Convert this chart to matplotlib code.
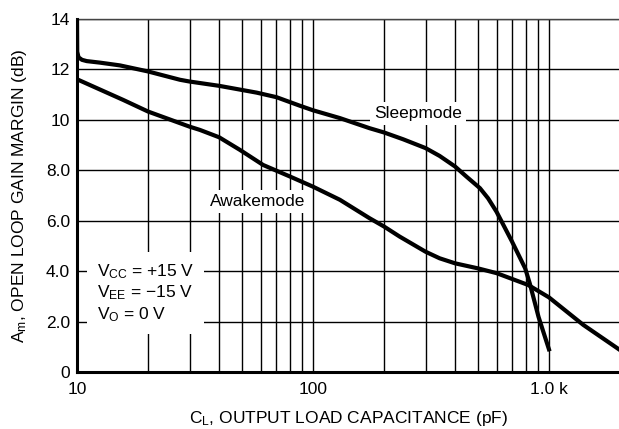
import matplotlib
matplotlib.use("Agg")
import matplotlib.pyplot as plt
from matplotlib.ticker import FixedLocator, NullFormatter

plt.rcParams['font.family'] = ['Liberation Sans', 'DejaVu Sans']
plt.rcParams['mathtext.fontset'] = 'custom'
plt.rcParams['mathtext.rm'] = 'Liberation Sans'
plt.rcParams['mathtext.it'] = 'Liberation Sans'

# Sleepmode curve (pF, dB)
sleep_x = [10, 10.02, 10.15, 10.5, 11, 12.5, 15.2, 20, 27.3, 30, 40, 57.7, 70, 88, 100, 130,
           173.6, 200, 241, 300, 344, 400, 447, 510, 552, 600, 695, 793, 830, 903, 1000]
sleep_y = [14.0, 12.7, 12.48, 12.38, 12.33, 12.27, 12.16, 11.92, 11.59, 11.52, 11.35, 11.08, 10.9, 10.56, 10.38, 10.07,
           9.67, 9.5, 9.23, 8.88, 8.57, 8.15, 7.75, 7.29, 6.89, 6.35, 5.2, 4.11, 3.5, 2.19, 0.9]

# Awakemode curve (pF, dB)
awake_x = [10, 15.7, 20, 30, 33.2, 40, 49, 61.5, 80, 100, 130, 173.6, 200, 233,
           300, 344, 400, 500, 600, 817, 1000, 1397, 2000]
awake_y = [11.61, 10.79, 10.33, 9.73, 9.6, 9.31, 8.81, 8.21, 7.75, 7.35, 6.83, 6.1, 5.77, 5.37,
           4.77, 4.51, 4.31, 4.11, 3.92, 3.45, 2.96, 1.87, 0.87]

y_ticks = [0, 2, 4, 6, 8, 10, 12, 14]
y_labels = ['0', '2.0', '4.0', '6.0', '8.0', '10', '12', '14']
x_ticks = [10, 100, 1000]
x_labels = ['10', '100', '1.0 k']

fig = plt.figure(figsize=(6.19, 4.29), dpi=100)
ax = fig.add_axes([0.1244, 0.1329, 0.8772, 0.8228])

ax.set_xscale('log')
ax.set_xlim(10, 2000)
ax.set_ylim(0, 14)

# grid
minor = [m * 10 ** d for d in (1, 2) for m in range(2, 10)] + [2000]
ax.xaxis.set_minor_locator(FixedLocator(minor))
ax.xaxis.set_minor_formatter(NullFormatter())
ax.set_xticks(x_ticks)
ax.set_xticklabels(x_labels)
ax.set_yticks(y_ticks)
ax.set_yticklabels(y_labels)
ax.grid(True, which='both', axis='x', color='black', linewidth=1.0)
ax.grid(True, which='major', axis='y', color='black', linewidth=1.0)
ax.tick_params(which='both', length=0, labelsize=12.5)
ax.tick_params(axis='x', pad=7)
ax.tick_params(axis='y', pad=5)
ax.set_axisbelow(True)

for side in ('left', 'bottom'):
    ax.spines[side].set_linewidth(2.2)
ax.spines['top'].set_linewidth(1.0)
ax.spines['top'].set_color('#444444')
ax.spines['right'].set_visible(False)

ax.plot(sleep_x, sleep_y, color='black', linewidth=3.0, solid_joinstyle='round', zorder=5)
ax.plot(awake_x, awake_y, color='black', linewidth=3.0, solid_joinstyle='round', zorder=5)

box = dict(facecolor='white', edgecolor='none', pad=3)
ax.text(279, 10.24, 'Sleepmode', fontsize=12.5, ha='center', va='center', bbox=box, zorder=4)
ax.text(58.5, 6.75, 'Awakemode', fontsize=12.5, ha='center', va='center', bbox=box, zorder=4)
ax.text(12.15, 3.13,
        'V$_{\\mathrm{CC}}$ = +15 V\nV$_{\\mathrm{EE}}$ = \u221215 V\nV$_{\\mathrm{O}}$ = 0 V',
        fontsize=12.5, ha='left', va='center', linespacing=1.2,
        bbox=dict(facecolor='white', edgecolor='none', pad=7), zorder=4)

ax.set_xlabel('C$_{\\mathrm{L}}$, OUTPUT LOAD CAPACITANCE (pF)', fontsize=12.5, labelpad=9)
ax.set_ylabel('A$_{\\mathrm{m}}$, OPEN LOOP GAIN MARGIN (dB)', fontsize=12.5, labelpad=12)

fig.savefig('out.png', dpi=100)
